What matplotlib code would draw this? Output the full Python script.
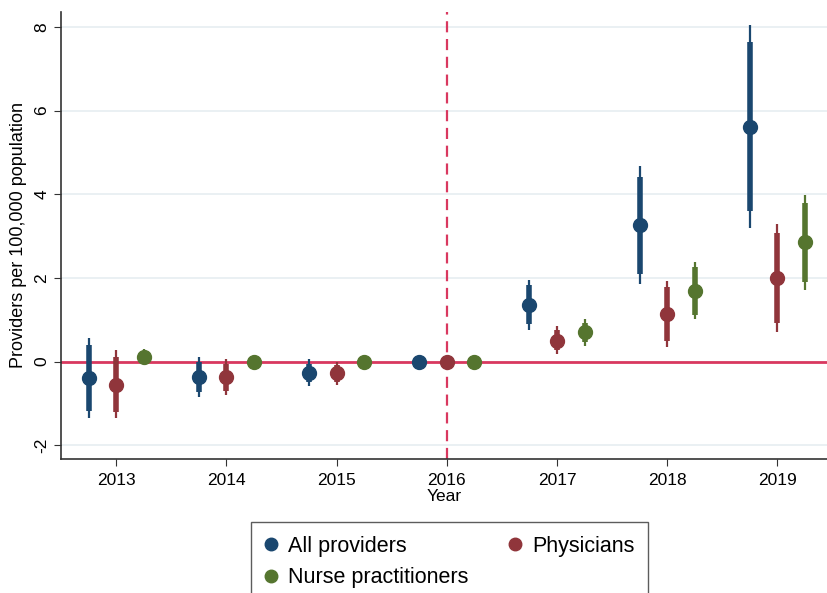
import numpy as np
import matplotlib.pyplot as plt
from matplotlib.lines import Line2D

plt.rcParams['font.family'] = ['Liberation Sans', 'DejaVu Sans']

years = [2013, 2014, 2015, 2016, 2017, 2018, 2019]
labels = ["All providers", "Physicians", "Nurse practitioners"]

# point estimates
est_all = [-0.39, -0.37, -0.28, 0.0, 1.36, 3.27, 5.61]
est_phys = [-0.55, -0.37, -0.28, 0.0, 0.50, 1.14, 1.99]
est_np = [0.12, -0.02, 0.0, 0.0, 0.70, 1.69, 2.85]

# outer (95%) intervals
lo95_all = [-1.34, -0.85, -0.58, 0.0, 0.76, 1.86, 3.19]
hi95_all = [0.57, 0.12, 0.05, 0.0, 1.96, 4.68, 8.04]
lo95_phys = [-1.36, -0.81, -0.55, 0.0, 0.18, 0.35, 0.70]
hi95_phys = [0.28, 0.07, 0.0, 0.0, 0.84, 1.92, 3.29]
lo95_np = [-0.05, -0.06, -0.04, 0.0, 0.37, 1.01, 1.72]
hi95_np = [0.30, 0.03, 0.04, 0.0, 1.02, 2.38, 3.97]

# inner (90%) intervals
lo90_all = [-1.18, -0.72, -0.50, 0.0, 0.90, 2.10, 3.59]
hi90_all = [0.40, 0.0, -0.05, 0.0, 1.83, 4.42, 7.64]
lo90_phys = [-1.20, -0.70, -0.48, 0.0, 0.27, 0.49, 0.91]
hi90_phys = [0.12, -0.05, -0.08, 0.0, 0.75, 1.78, 3.07]
lo90_np = [0.02, -0.04, -0.02, 0.0, 0.47, 1.12, 1.89]
hi90_np = [0.22, 0.01, 0.02, 0.0, 0.93, 2.27, 3.78]

colors = ["#1a476f", "#90353b", "#55752f"]
offsets = [-0.25, 0.0, 0.25]

series = [
    (est_all, lo95_all, hi95_all, lo90_all, hi90_all),
    (est_phys, lo95_phys, hi95_phys, lo90_phys, hi90_phys),
    (est_np, lo95_np, hi95_np, lo90_np, hi90_np),
]

fig = plt.figure(figsize=(8.27, 5.93), dpi=100)
ax = fig.add_axes([0.074, 0.226, 0.926, 0.754])

for yv in [-2, 0, 2, 4, 6, 8]:
    ax.axhline(yv, color="#e6eef1", lw=1.2, zorder=0)
ax.axhline(0, color="#d9385f", lw=2, zorder=1)
ax.axvline(2016, color="#d9385f", lw=1.6, ls=(0, (5, 3)), zorder=1)

for (est, lo95, hi95, lo90, hi90), c, off in zip(series, colors, offsets):
    x = np.array(years) + off
    ax.vlines(x, lo95, hi95, color=c, lw=1.6, zorder=2)
    ax.vlines(x, lo90, hi90, color=c, lw=4, zorder=2)
    ax.plot(x, est, "o", color=c, ms=10, zorder=3)

ax.set_xlim(2012.5, 2019.45)
ax.set_ylim(-2.33, 8.36)
ax.set_xticks(years)
ax.set_yticks([-2, 0, 2, 4, 6, 8])
ax.set_yticklabels(["-2", "0", "2", "4", "6", "8"], rotation=90, va="center")
ax.tick_params(axis="both", labelsize=12.5, length=5, color="#333333")
ax.tick_params(axis="x", pad=5)
ax.set_ylabel("Providers per 100,000 population", fontsize=13, labelpad=5)
ax.set_xlabel("Year", fontsize=12.5, labelpad=1)
for s in ["top", "right"]:
    ax.spines[s].set_visible(False)
for s in ["left", "bottom"]:
    ax.spines[s].set_color("#333333")
    ax.spines[s].set_linewidth(1.2)

handles = [Line2D([], [], ls="none", marker="o", ms=9, color=c) for c in colors]
leg = fig.legend([handles[0], handles[2], handles[1]],
                 [labels[0], labels[2], labels[1]],
                 ncol=2, loc="upper left", bbox_to_anchor=(0.3035, 0.12),
                 borderaxespad=0,
                 fontsize=15.5, frameon=True, fancybox=False, edgecolor="#333333",
                 handletextpad=0.5, columnspacing=1.85, labelspacing=0.5,
                 borderpad=0.64, handlelength=0.6)
leg.get_frame().set_linewidth(1.0)

fig.savefig("out.png", dpi=100)
